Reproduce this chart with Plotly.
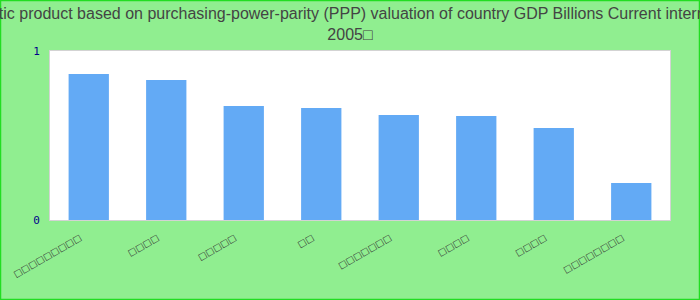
import plotly.graph_objects as go

# Category labels render as missing-glyph boxes in the reference
categories = ["□□□□□□□□□", "□□□□", "□□□□□", "□□", "□□□□□□□", "□□□□", "□□□□", "□□□□□□□□"]
values = [0.864, 0.828, 0.675, 0.663, 0.621, 0.615, 0.544, 0.219]
y_ticks = [0, 1]
title_text = ("Gross domestic product based on purchasing-power-parity (PPP) valuation of country GDP "
              "Billions Current international dollar<br>2005□")

positions = list(range(len(categories)))

fig = go.Figure(go.Bar(x=positions, y=values, marker=dict(color="#63aaf5", line=dict(width=0))))

W, H = 700, 300
L, R, T, B = 50, 30, 51, 80

fig.update_layout(
    width=W, height=H,
    margin=dict(l=L, r=R, t=T, b=B, pad=0),
    paper_bgcolor="#90ee90",
    plot_bgcolor="#ffffff",
    bargap=0.48,
    showlegend=False,
    title=dict(text=title_text, x=0.5, xanchor="center", xref="container",
               y=1 - 19 / H, yanchor="middle", yref="container",
               font=dict(family="Liberation Sans, Arial", size=16, color="#444444")),
    xaxis=dict(range=[-0.5, len(categories) - 0.5], tickvals=positions, ticktext=categories,
               tickangle=-30, showgrid=False, showline=True, mirror=True, zeroline=False,
               linecolor="#d3d3d3", linewidth=1, ticks="",
               ticklabelstandoff=8, ticklabelshift=-9,
               tickfont=dict(family="DejaVu Sans", size=9, color="#333333")),
    yaxis=dict(range=[0, 1], tickvals=y_ticks, ticktext=[str(v) for v in y_ticks], showgrid=False,
               zeroline=False, showline=True, mirror=True, linecolor="#d3d3d3", linewidth=1,
               ticks="outside", ticklen=7, tickcolor="rgba(0,0,0,0)",
               tickfont=dict(family="DejaVu Sans Mono", size=11, color="#00008b")),
)

pw = W - L - R
ph = H - T - B
fig.add_shape(type="rect", xref="paper", yref="paper",
              x0=(-L + 0.5) / pw, x1=1 + (R - 0.5) / pw,
              y0=(-B + 0.5) / ph, y1=1 + (T - 0.5) / ph,
              line=dict(color="#22dd22", width=1.5), layer="above")

fig.write_html("out.html")
